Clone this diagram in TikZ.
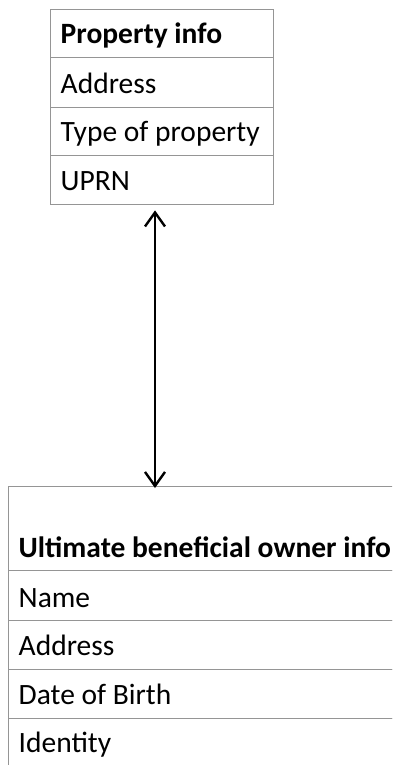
\documentclass[tikz,border=0pt]{standalone}
\usepackage{fontspec}
\setmainfont{Carlito}
\usetikzlibrary{arrows.meta}
\definecolor{gridgray}{HTML}{959595}
\begin{document}
\begin{tikzpicture}[x=1pt,y=-1pt,
  cell/.style={draw=gridgray, line width=1.4pt, anchor=north west, inner sep=0pt},
  lbl/.style={anchor=base west, inner sep=0pt, font=\fontsize{29.5}{33}\selectfont},
  link/.style={line width=2.4pt, {Straight Barb[length=14pt,width=20pt,line width=2.4pt]}-{Straight Barb[length=14pt,width=20pt,line width=2.4pt]}}]
\useasboundingbox (0,0) rectangle (392,765);
\begin{scope}
\clip (0,0) rectangle (392,765);
% property box
\node[cell, minimum width=223pt, minimum height=48pt] (p0) at (50,9) {};
\node[cell, minimum width=223pt, minimum height=50pt] (p1) at (50,57) {};
\node[cell, minimum width=223pt, minimum height=48pt] (p2) at (50,107) {};
\node[cell, minimum width=223pt, minimum height=49pt] (p3) at (50,155) {};
\node[lbl] (t0) at ([shift={(10.5pt,15pt)}]p0.south west) {\textbf{Property info}};
\node[lbl] (t1) at ([shift={(10.5pt,15pt)}]p1.south west) {Address};
\node[lbl] (t2) at ([shift={(10.5pt,15pt)}]p2.south west) {Type of property};
\node[lbl] (t3) at ([shift={(10.5pt,15pt)}]p3.south west) {UPRN};
% owner box
\node[cell, minimum width=420pt, minimum height=84pt] (o0) at (8,486) {};
\node[cell, minimum width=420pt, minimum height=50pt] (o1) at (8,570) {};
\node[cell, minimum width=420pt, minimum height=49pt] (o2) at (8,620) {};
\node[cell, minimum width=420pt, minimum height=49pt] (o3) at (8,669) {};
\node[cell, minimum width=420pt, minimum height=60pt] (o4) at (8,718) {};
\node[lbl] (u0) at ([shift={(10.5pt,14pt)}]o0.south west) {\textbf{Ultimate beneficial owner info}};
\node[lbl] (u1) at ([shift={(10.5pt,14pt)}]o1.south west) {Name};
\node[lbl] (u2) at ([shift={(10.5pt,15pt)}]o2.south west) {Address};
\node[lbl] (u3) at ([shift={(10.5pt,15pt)}]o3.south west) {Date of Birth};
\node[lbl] (u4) at ([shift={(10.5pt,-34pt)}]o4.north west) {Identity};
\end{scope}
\coordinate (a1) at ([yshift=-5pt]p3.south -| 155,0);
\coordinate (a2) at ([yshift=-2pt]o0.north -| 155,0);
\draw[link] (a1) -- (a2);
\end{tikzpicture}
\end{document}
